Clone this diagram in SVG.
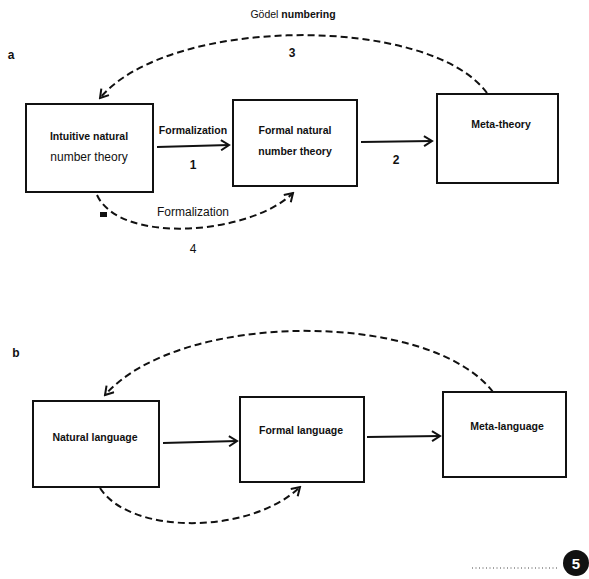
<svg xmlns="http://www.w3.org/2000/svg" width="589" height="579" viewBox="0 0 589 579">
<style>
.box{fill:#fff;stroke:#111;stroke-width:2}
.solid{fill:none;stroke:#111;stroke-width:1.8}
.dash{fill:none;stroke:#111;stroke-width:2;stroke-dasharray:7 4}
.t{font-family:"Liberation Sans",Arial,sans-serif;font-size:10.5px;font-weight:bold;fill:#111;text-anchor:middle}
.r{font-family:"Liberation Sans",Arial,sans-serif;font-size:12px;fill:#111;text-anchor:middle}
.n{font-family:"Liberation Sans",Arial,sans-serif;font-size:12px;font-weight:bold;fill:#111;text-anchor:middle}
</style>
<defs>
<marker id="ah" viewBox="0 0 12 12" refX="10" refY="6" markerWidth="12" markerHeight="12" markerUnits="userSpaceOnUse" orient="auto">
<path d="M2,1 L10,6 L2,11" fill="none" stroke="#111" stroke-width="2"/>
</marker>
</defs>
<text class="n" x="11" y="59" font-size="13">a</text>
<text class="n" x="16" y="357" font-size="13">b</text>
<text x="293" y="18" class="t" font-size="12"><tspan font-weight="normal">Gödel</tspan> numbering</text>
<text class="n" x="292" y="57">3</text>
<g id="intuitive">
<rect class="box" x="26" y="104" width="127" height="88"/>
<text class="t" x="89" y="140">Intuitive natural</text>
<text class="r" x="89" y="161" font-size="11">number theory</text>
</g>
<g id="formal-theory">
<rect class="box" x="233" y="100" width="124" height="86"/>
<text class="t" x="295" y="134">Formal natural</text>
<text class="t" x="295" y="155">number theory</text>
</g>
<g id="meta-theory">
<rect class="box" x="437" y="94" width="121" height="89"/>
<text class="t" x="501" y="128">Meta-theory</text>
</g>
<g id="natural-language">
<rect class="box" x="33" y="401" width="126" height="86"/>
<text class="t" x="95" y="441">Natural language</text>
</g>
<g id="formal-language">
<rect class="box" x="240" y="397" width="124" height="85"/>
<text class="t" x="301" y="434">Formal language</text>
</g>
<g id="meta-language">
<rect class="box" x="443" y="392" width="123" height="85"/>
<text class="t" x="507" y="430">Meta-language</text>
</g>
<g id="connectors">
<path class="solid" d="M157,147 L229,145" marker-end="url(#ah)"/>
<text class="t" x="193" y="134">Formalization</text>
<text class="n" x="193" y="169">1</text>
<path class="solid" d="M361,142 L432,141" marker-end="url(#ah)"/>
<text class="n" x="396" y="164">2</text>
<path class="dash" d="M487,93 C430,15 170,15 100,98" marker-end="url(#ah)"/>
<path class="dash" d="M97,195 C120,245 250,235 293,193" marker-end="url(#ah)"/>
<text class="r" x="193" y="216">Formalization</text>
<text class="r" x="193" y="253">4</text>
<rect x="100" y="212" width="7" height="5" fill="#111"/>
<path class="solid" d="M163,443 L237,441" marker-end="url(#ah)"/>
<path class="solid" d="M367,437 L440,436" marker-end="url(#ah)"/>
<path class="dash" d="M493,392 C430,310 180,310 105,395" marker-end="url(#ah)"/>
<path class="dash" d="M100,488 C130,535 250,535 300,487" marker-end="url(#ah)"/>
</g>
<line x1="472" y1="568" x2="557" y2="568" stroke="#444" stroke-width="1" stroke-dasharray="1 2.5"/>
<circle cx="576" cy="563" r="13" fill="#111"/>
<text x="576" y="569" font-family="Liberation Sans,Arial,sans-serif" font-size="15" font-weight="bold" fill="#fff" text-anchor="middle">5</text>
</svg>
